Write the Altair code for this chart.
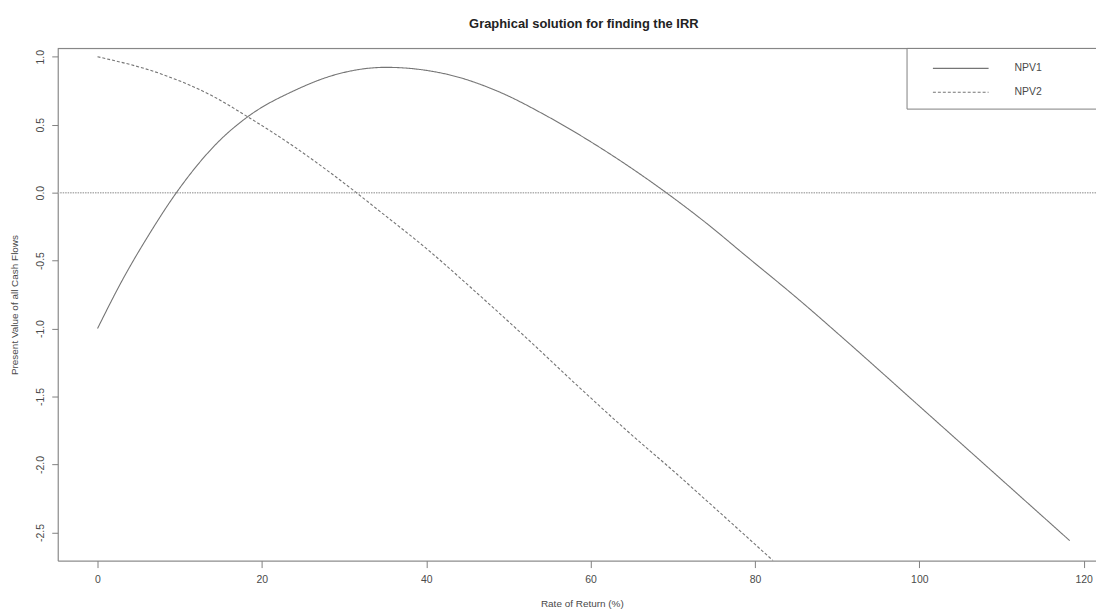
import altair as alt
import pandas as pd

# ---------------- data ----------------
series_names = ["NPV1", "NPV2"]

npv1_rate = [0, 3.0, 6.3, 9.6, 14.8, 18.2, 24.1, 28.5, 35.1, 42.6, 48.7, 54.7,
             60.8, 69.2, 74.1, 78.9, 85.4, 91.0, 99.9, 118.3]
npv1_value = [-1.0, -0.646, -0.305, 0.0, 0.38, 0.555, 0.755, 0.86, 0.922, 0.87,
              0.746, 0.563, 0.345, 0.0, -0.225, -0.465, -0.79, -1.085, -1.565, -2.56]

npv2_rate = [0, 7.9, 13.9, 18.2, 24.1, 28.1, 31.5, 34.1, 40.2, 46.2, 52.3, 58.4,
             64.4, 70.5, 74.1, 82.2]
npv2_value = [1.0, 0.87, 0.714, 0.561, 0.331, 0.157, 0.0, -0.125, -0.42, -0.74, -1.075,
              -1.42, -1.75, -2.07, -2.265, -2.707]

x_ticks = [0, 20, 40, 60, 80, 100, 120]
y_ticks = [-2.5, -2.0, -1.5, -1.0, -0.5, 0.0, 0.5, 1.0]

title_text = "Graphical solution for finding the IRR"
x_title = "Rate of Return (%)"
y_title = "Present Value of all Cash Flows"

# ---------------- build ----------------
df = pd.DataFrame({
    "rate": npv1_rate + npv2_rate,
    "value": npv1_value + npv2_value,
    "series": [series_names[0]] * len(npv1_rate) + [series_names[1]] * len(npv2_rate),
})

FONT = "Liberation Sans"
LINE = "#757575"
FRAME = "#808080"
TXT = "#4a4a4a"
W, H = 1044, 515

x_scale = alt.Scale(domain=[-4.84, 121.5], nice=False, zero=False)
y_scale = alt.Scale(domain=[-2.707, 1.061], nice=False, zero=False)

x_axis = alt.Axis(
    values=x_ticks, format="d", grid=False, tickSize=7, labelPadding=7,
    labelFont=FONT, labelFontSize=10.5, labelColor=TXT, labelFlush=False,
    domainColor=FRAME, tickColor=FRAME,
    title=x_title, titleFont=FONT, titleFontSize=10, titleFontWeight="normal",
    titleColor=TXT, titleX=527, titleY=46, titleAlign="center",
    titleBaseline="alphabetic",
)
y_axis = alt.Axis(
    values=y_ticks, format=".1f", grid=False, tickSize=6, labelPadding=8,
    labelAngle=270, labelAlign="center", labelBaseline="alphabetic",
    labelExpr="replace(datum.label, '\u2212', '-')",
    labelFont=FONT, labelFontSize=10.5, labelColor=TXT, labelFlush=False,
    domainColor=FRAME, tickColor=FRAME,
    title=y_title, titleFont=FONT, titleFontSize=10, titleFontWeight="normal",
    titleColor=TXT, titleAngle=270, titleX=-40, titleY=H / 2,
    titleAlign="center", titleBaseline="alphabetic",
)

one = alt.Chart(pd.DataFrame({"k": [0]}))

zero_line = one.mark_rule(color="#b0b0b0", strokeDash=[1.5, 1], strokeWidth=1.5).encode(
    y=alt.datum(0)
)

lines = alt.Chart(df).mark_line(color=LINE, strokeWidth=1.1, clip=True, interpolate="monotone").encode(
    x=alt.X("rate:Q", scale=x_scale, axis=x_axis),
    y=alt.Y("value:Q", scale=y_scale, axis=y_axis),
    strokeDash=alt.StrokeDash(
        "series:N",
        scale=alt.Scale(domain=series_names, range=[[1, 0], [3, 2]]),
        legend=None,
    ),
    detail="series:N",
)

top_border = one.mark_rule(color=FRAME, strokeWidth=1).encode(
    y=alt.value(0), x=alt.value(0), x2=alt.value(W)
)

legend_box = one.mark_rect(fill="white", stroke=FRAME, strokeWidth=1).encode(
    x=alt.value(854), x2=alt.value(1070), y=alt.value(0), y2=alt.value(61)
)

legend_layers = []
dashes = [[1, 0], [3, 2]]
for i, name in enumerate(series_names):
    yy = 20 + 24 * i
    legend_layers.append(
        one.mark_rule(color=LINE, strokeWidth=1.1, strokeDash=dashes[i]).encode(
            x=alt.value(880), x2=alt.value(936), y=alt.value(yy)
        )
    )
    legend_layers.append(
        one.mark_text(align="left", baseline="middle", font=FONT, fontSize=10.5, color=TXT).encode(
            x=alt.value(962), y=alt.value(yy), text=alt.value(name)
        )
    )

chart = alt.layer(zero_line, lines, top_border, legend_box, *legend_layers).properties(
    width=W,
    height=H,
    autosize=alt.AutoSizeParams(type="none"),
    padding={"left": 50, "top": 39, "right": 0, "bottom": 50},
    title=alt.TitleParams(
        title_text, font=FONT, fontSize=13, fontWeight="bold", color="#222222",
        anchor="middle", frame="group", dx=7, offset=7, baseline="alphabetic",
    ),
).configure_view(stroke=None).configure(background="white")

chart.save("out.html", embed_options={"renderer": "svg", "actions": False})
